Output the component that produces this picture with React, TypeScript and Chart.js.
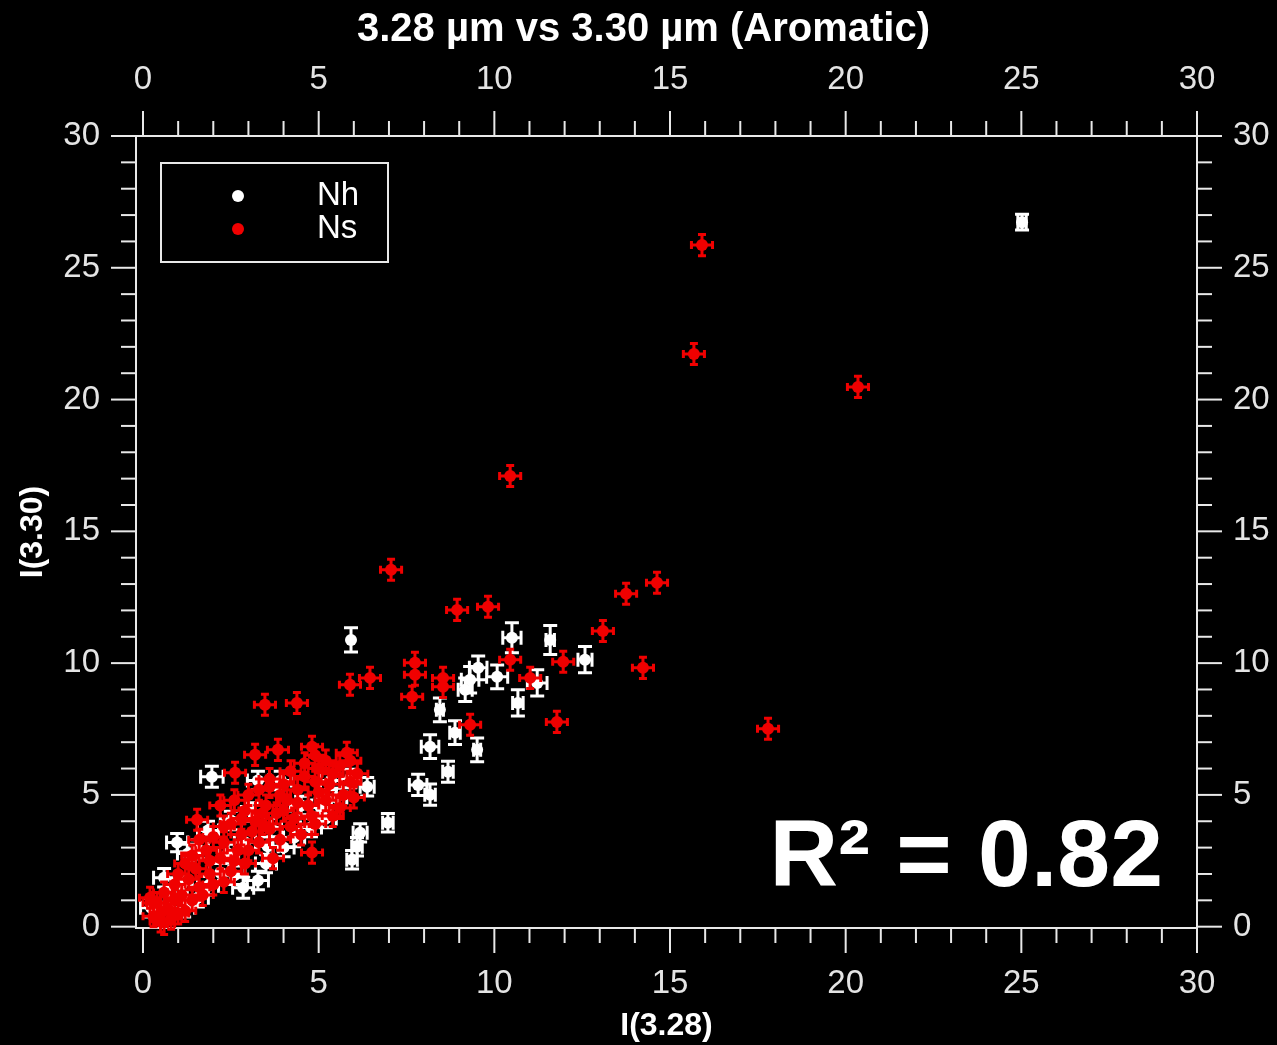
import React, { useEffect, useRef } from "react";
import { Chart, registerables } from "chart.js";

Chart.register(...registerables);

// ---------- data ----------
const TITLE = "3.28 µm vs 3.30 µm (Aromatic)";
const X_TITLE = "I(3.28)";
const Y_TITLE = "I(3.30)";
const R2_TEXT = "R² = 0.82";
const SERIES_LABELS = ["Nh", "Ns"];
const SERIES_COLORS = ["#ffffff", "#f00000"];
const X_MIN = -0.2;
const X_MAX = 30;
const Y_MIN = -0.05;
const Y_MAX = 30;
const MAJOR_STEP = 5;

// [x, y, xErr, yErr]
const NH_POINTS: [number, number, number, number][] = [
  [25.02, 26.73, 0.12, 0.3],
  [5.92, 10.88, 0, 0.46],
  [10.5, 10.96, 0.26, 0.57],
  [11.59, 10.88, 0.12, 0.55],
  [12.58, 10.13, 0.2, 0.5],
  [9.31, 9.37, 0.25, 0.5],
  [9.17, 8.99, 0.2, 0.45],
  [9.54, 9.82, 0.25, 0.45],
  [10.08, 9.48, 0.3, 0.45],
  [11.22, 9.25, 0.28, 0.5],
  [10.67, 8.49, 0.15, 0.5],
  [8.45, 8.23, 0.1, 0.45],
  [8.88, 7.36, 0.15, 0.45],
  [9.51, 6.71, 0.1, 0.45],
  [8.17, 6.83, 0.25, 0.45],
  [8.68, 5.88, 0.15, 0.4],
  [7.83, 5.38, 0.25, 0.4],
  [8.17, 5.01, 0.15, 0.4],
  [6.38, 5.31, 0.2, 0.35],
  [6.97, 3.94, 0.15, 0.35],
  [6.18, 3.56, 0.2, 0.35],
  [6.09, 3.03, 0.15, 0.35],
  [5.95, 2.54, 0.15, 0.35],
  [1.96, 5.69, 0.32, 0.4],
  [2.85, 1.48, 0.3, 0.4],
  [0.97, 3.19, 0.3, 0.35],
  [1.28, 2.78, 0.3, 0.35],
  [1.56, 2.95, 0.3, 0.35],
  [0.6, 1.86, 0.3, 0.35],
  [1.85, 3.65, 0.3, 0.35],
  [3.27, 1.75, 0.3, 0.35],
  [2.5, 4.03, 0.3, 0.35],
  [2.42, 2.78, 0.3, 0.35],
  [0.23, 0.72, 0.3, 0.35],
  [1.17, 0.72, 0.3, 0.35],
  [1.56, 1.1, 0.3, 0.35],
  [1.85, 1.55, 0.3, 0.35],
  [2.2, 2.05, 0.3, 0.35],
  [3.27, 5.55, 0.3, 0.35],
  [3.92, 5.55, 0.3, 0.35],
  [5.35, 5.55, 0.3, 0.35],
  [5.9, 5.62, 0.3, 0.35],
  [3.64, 3.76, 0.3, 0.35],
  [5.06, 4.52, 0.3, 0.35],
  [4.78, 3.76, 0.3, 0.35],
  [4.0, 3.0, 0.3, 0.35],
  [3.55, 3.05, 0.3, 0.35],
  [4.3, 3.38, 0.3, 0.35],
  [2.9, 3.2, 0.3, 0.35],
  [3.1, 4.35, 0.3, 0.35],
  [4.5, 4.6, 0.3, 0.35],
  [5.5, 4.9, 0.3, 0.35],
  [3.5, 2.4, 0.3, 0.35],
  [2.6, 1.95, 0.3, 0.35],
  [0.8, 1.25, 0.3, 0.35],
  [1.1, 1.6, 0.3, 0.35],
  [5.2, 4.1, 0.3, 0.35],
];

const NS_POINTS: [number, number, number, number][] = [
  [15.91, 25.86, 0.3, 0.4],
  [15.68, 21.73, 0.3, 0.4],
  [20.35, 20.48, 0.3, 0.4],
  [10.45, 17.1, 0.3, 0.4],
  [7.06, 13.54, 0.3, 0.4],
  [8.94, 12.02, 0.3, 0.4],
  [9.82, 12.14, 0.3, 0.4],
  [13.75, 12.63, 0.3, 0.4],
  [14.63, 13.05, 0.3, 0.4],
  [13.09, 11.22, 0.3, 0.4],
  [14.23, 9.82, 0.3, 0.4],
  [11.96, 10.05, 0.3, 0.4],
  [10.45, 10.13, 0.3, 0.4],
  [11.02, 9.44, 0.3, 0.4],
  [11.78, 7.77, 0.3, 0.4],
  [17.79, 7.51, 0.3, 0.4],
  [9.31, 7.66, 0.3, 0.4],
  [7.74, 10.01, 0.3, 0.4],
  [7.74, 9.56, 0.3, 0.4],
  [8.54, 9.44, 0.3, 0.4],
  [8.54, 9.1, 0.3, 0.4],
  [7.66, 8.72, 0.3, 0.4],
  [5.89, 9.18, 0.3, 0.4],
  [6.46, 9.44, 0.3, 0.4],
  [3.47, 8.42, 0.3, 0.4],
  [4.38, 8.49, 0.3, 0.4],
  [3.19, 6.52, 0.3, 0.4],
  [3.84, 6.71, 0.3, 0.4],
  [4.81, 6.83, 0.3, 0.4],
  [2.62, 5.84, 0.3, 0.4],
  [1.54, 4.06, 0.3, 0.4],
  [4.81, 2.81, 0.3, 0.4],
  [5.2, 6.3, 0.3, 0.4],
  [5.6, 6.1, 0.3, 0.4],
  [5.9, 6.3, 0.3, 0.4],
  [5.4, 5.8, 0.3, 0.4],
  [5.9, 5.5, 0.3, 0.4],
  [6.1, 5.8, 0.3, 0.4],
  [5.7, 5.0, 0.3, 0.4],
  [5.2, 4.8, 0.3, 0.4],
  [6.0, 4.9, 0.3, 0.4],
  [5.6, 4.5, 0.3, 0.4],
  [4.2, 5.9, 0.3, 0.4],
  [4.6, 6.2, 0.3, 0.4],
  [4.9, 5.5, 0.3, 0.4],
  [4.4, 5.2, 0.3, 0.4],
  [4.1, 4.8, 0.3, 0.4],
  [4.7, 4.6, 0.3, 0.4],
  [4.3, 4.1, 0.3, 0.4],
  [4.8, 4.2, 0.3, 0.4],
  [4.5, 3.5, 0.3, 0.4],
  [3.3, 5.2, 0.3, 0.4],
  [3.6, 5.6, 0.3, 0.4],
  [3.9, 5.0, 0.3, 0.4],
  [3.5, 4.6, 0.3, 0.4],
  [3.8, 4.3, 0.3, 0.4],
  [3.2, 4.0, 0.3, 0.4],
  [3.6, 3.7, 0.3, 0.4],
  [3.9, 3.3, 0.3, 0.4],
  [3.3, 3.2, 0.3, 0.4],
  [3.7, 2.6, 0.3, 0.4],
  [2.2, 4.6, 0.3, 0.4],
  [2.6, 4.8, 0.3, 0.4],
  [2.9, 4.4, 0.3, 0.4],
  [2.5, 3.9, 0.3, 0.4],
  [2.8, 3.5, 0.3, 0.4],
  [2.3, 3.2, 0.3, 0.4],
  [2.7, 2.9, 0.3, 0.4],
  [2.2, 2.6, 0.3, 0.4],
  [2.9, 2.4, 0.3, 0.4],
  [2.5, 2.1, 0.3, 0.4],
  [1.2, 2.4, 0.3, 0.4],
  [1.5, 2.2, 0.3, 0.4],
  [1.8, 2.9, 0.3, 0.4],
  [1.6, 3.3, 0.3, 0.4],
  [1.3, 1.8, 0.3, 0.4],
  [1.9, 2.0, 0.3, 0.4],
  [1.6, 1.5, 0.3, 0.4],
  [1.1, 1.2, 0.3, 0.4],
  [1.9, 2.5, 0.3, 0.4],
  [1.4, 2.7, 0.3, 0.4],
  [0.3, 0.4, 0.3, 0.4],
  [0.5, 0.2, 0.3, 0.4],
  [0.8, 0.3, 0.3, 0.4],
  [0.4, 0.9, 0.3, 0.4],
  [0.7, 0.7, 0.3, 0.4],
  [0.9, 1.0, 0.3, 0.4],
  [0.6, 1.3, 0.3, 0.4],
  [0.2, 1.1, 0.3, 0.4],
  [0.9, 1.6, 0.3, 0.4],
  [0.5, 0.5, 0.3, 0.4],
  [1.0, 0.5, 0.3, 0.4],
  [0.3, 0.9, 0.3, 0.4],
  [0.6, 0.1, 0.3, 0.4],
  [1.2, 0.6, 0.3, 0.4],
  [1.4, 1.0, 0.3, 0.4],
  [1.7, 1.2, 0.3, 0.4],
  [2.0, 1.6, 0.3, 0.4],
  [2.3, 1.7, 0.3, 0.4],
  [2.6, 2.5, 0.3, 0.4],
  [3.0, 2.9, 0.3, 0.4],
  [3.1, 3.6, 0.3, 0.4],
  [3.4, 3.9, 0.3, 0.4],
  [2.0, 3.4, 0.3, 0.4],
  [2.3, 3.8, 0.3, 0.4],
  [2.8, 4.1, 0.3, 0.4],
  [4.0, 4.4, 0.3, 0.4],
  [4.4, 4.7, 0.3, 0.4],
  [5.0, 5.1, 0.3, 0.4],
  [5.3, 5.4, 0.3, 0.4],
  [4.6, 5.7, 0.3, 0.4],
  [5.0, 6.0, 0.3, 0.4],
  [5.8, 6.6, 0.3, 0.4],
  [4.9, 6.5, 0.3, 0.4],
  [3.0, 5.0, 0.3, 0.4],
  [4.2, 3.8, 0.3, 0.4],
  [4.0, 5.4, 0.3, 0.4],
  [3.4, 4.3, 0.3, 0.4],
  [5.4, 4.2, 0.3, 0.4],
  [4.9, 3.9, 0.3, 0.4],
  [1.0, 2.0, 0.3, 0.4],
  [3.6, 5.3, 0.3, 0.4],
];

// ---------- styling ----------
const FONT = "'Liberation Sans', Arial, Helvetica, sans-serif";
const AXIS_COLOR = "#e8e8e8";
const TICK_LABEL_COLOR = "#e4e4e4";
const TITLE_SIZE = 40;
const TITLE_PAD_TOP = 6;
const TITLE_BOX = TITLE_SIZE * 1.2 + TITLE_PAD_TOP;

const toPoints = (arr: [number, number, number, number][]) =>
  arr.map(([x, y, xe, ye]) => ({ x, y, xe, ye }));

const frameTicksPlugin = {
  id: "frameTicks",
  beforeDatasetsDraw(chart: any) {
    const { ctx, chartArea: a, scales } = chart;
    ctx.save();
    ctx.strokeStyle = AXIS_COLOR;
    ctx.lineWidth = 2;
    ctx.strokeRect(a.left, a.top, a.right - a.left, a.bottom - a.top);
    const draw = (scale: any, side: string) => {
      for (let v = Math.ceil(scale.min); v <= scale.max; v++) {
        const len = v % MAJOR_STEP === 0 ? 25 : 15;
        const p = scale.getPixelForValue(v);
        ctx.beginPath();
        if (side === "bottom") {
          ctx.moveTo(p, a.bottom);
          ctx.lineTo(p, a.bottom + len);
        } else if (side === "top") {
          ctx.moveTo(p, a.top);
          ctx.lineTo(p, a.top - len);
        } else if (side === "left") {
          ctx.moveTo(a.left, p);
          ctx.lineTo(a.left - len, p);
        } else {
          ctx.moveTo(a.right, p);
          ctx.lineTo(a.right + len, p);
        }
        ctx.stroke();
      }
    };
    draw(scales.x, "bottom");
    draw(scales.x2, "top");
    draw(scales.y, "left");
    draw(scales.y2, "right");
    ctx.restore();
  },
};

const errorBarsPlugin = {
  id: "errorBars",
  beforeDatasetDraw(chart: any, args: any) {
    const ds = chart.data.datasets[args.index];
    const xs = chart.scales.x;
    const ys = chart.scales.y;
    const ctx = chart.ctx;
    const cap = ds.errorCap || 4;
    ctx.save();
    ctx.strokeStyle = ds.backgroundColor;
    ctx.lineWidth = 3;
    ctx.beginPath();
    for (const p of ds.data) {
      const cx = xs.getPixelForValue(p.x);
      const cy = ys.getPixelForValue(p.y);
      if (p.xe > 0) {
        const x1 = xs.getPixelForValue(p.x - p.xe);
        const x2 = xs.getPixelForValue(p.x + p.xe);
        ctx.moveTo(x1, cy);
        ctx.lineTo(x2, cy);
        ctx.moveTo(x1, cy - cap);
        ctx.lineTo(x1, cy + cap);
        ctx.moveTo(x2, cy - cap);
        ctx.lineTo(x2, cy + cap);
      }
      if (p.ye > 0) {
        const y1 = ys.getPixelForValue(p.y - p.ye);
        const y2 = ys.getPixelForValue(p.y + p.ye);
        ctx.moveTo(cx, y1);
        ctx.lineTo(cx, y2);
        ctx.moveTo(cx - cap, y1);
        ctx.lineTo(cx + cap, y1);
        ctx.moveTo(cx - cap, y2);
        ctx.lineTo(cx + cap, y2);
      }
    }
    ctx.stroke();
    ctx.restore();
  },
};

const overlayPlugin = {
  id: "overlay",
  afterDraw(chart: any) {
    const { ctx, chartArea: a } = chart;
    ctx.save();
    // legend box
    ctx.strokeStyle = AXIS_COLOR;
    ctx.lineWidth = 2;
    ctx.strokeRect(a.left + 25, a.top + 27, 227, 99);
    chart.data.datasets.forEach((ds: any, i: number) => {
      const y = a.top + 60 + i * 33;
      ctx.fillStyle = ds.backgroundColor;
      ctx.beginPath();
      ctx.arc(a.left + 102, y, 6, 0, Math.PI * 2);
      ctx.fill();
      ctx.fillStyle = "#ffffff";
      ctx.font = `33px ${FONT}`;
      ctx.textAlign = "left";
      ctx.textBaseline = "middle";
      ctx.fillText(ds.label, a.left + 181, y);
    });
    // R^2 annotation
    ctx.fillStyle = "#ffffff";
    ctx.font = `bold 95px ${FONT}`;
    ctx.textAlign = "right";
    ctx.textBaseline = "alphabetic";
    ctx.fillText(R2_TEXT, a.right - 34, a.bottom - 42);
    ctx.restore();
  },
};

const tickFont = { family: FONT, size: 33 };
const axisTitleFont = { family: FONT, size: 32, weight: "bold" as const };

function makeScale(position: string, isX: boolean, extra: any) {
  return {
    type: "linear",
    position,
    min: isX ? X_MIN : Y_MIN,
    max: isX ? X_MAX : Y_MAX,
    grid: { display: false, drawTicks: false },
    border: { display: false },
    ticks: {
      stepSize: MAJOR_STEP,
      includeBounds: false,
      autoSkip: false,
      maxRotation: 0,
      color: TICK_LABEL_COLOR,
      font: tickFont,
      padding: 36,
    },
    ...extra,
  };
}

export default function App() {
  const ref = useRef<HTMLCanvasElement>(null);

  useEffect(() => {
    document.body.style.margin = "0";
    document.body.style.background = "#000";
    document.documentElement.style.overflow = "hidden";
    const chart = new Chart(ref.current as HTMLCanvasElement, {
      type: "scatter",
      data: {
        datasets: [
          {
            label: SERIES_LABELS[0],
            data: toPoints(NH_POINTS),
            backgroundColor: SERIES_COLORS[0],
            borderWidth: 0,
            pointRadius: 6,
            errorCap: 7,
            order: 2,
          } as any,
          {
            label: SERIES_LABELS[1],
            data: toPoints(NS_POINTS),
            backgroundColor: SERIES_COLORS[1],
            borderWidth: 0,
            pointRadius: 6,
            errorCap: 4,
            order: 1,
          } as any,
        ],
      },
      options: {
        responsive: false,
        animation: false,
        devicePixelRatio: 1,
        layout: { padding: { left: 10, right: 0, top: 0, bottom: 0 } },
        plugins: {
          legend: { display: false },
          tooltip: { enabled: false },
          title: {
            display: true,
            text: TITLE,
            color: "#ffffff",
            font: { family: FONT, size: TITLE_SIZE, weight: "bold" },
            padding: { top: TITLE_PAD_TOP, bottom: 0 },
          },
        },
        scales: {
          x: makeScale("bottom", true, {
            title: {
              display: true,
              text: X_TITLE,
              color: "#ffffff",
              font: axisTitleFont,
              padding: { top: 0, bottom: 0 },
            },
            afterFit: (s: any) => {
              s.height = 117;
            },
          }),
          x2: makeScale("top", true, {
            afterFit: (s: any) => {
              s.height = 136 - TITLE_BOX;
            },
          }),
          y: makeScale("left", false, {
            title: {
              display: true,
              text: Y_TITLE,
              color: "#ffffff",
              font: axisTitleFont,
              padding: { top: 4, bottom: 0 },
            },
            afterFit: (s: any) => {
              s.width = 126;
            },
          }),
          y2: makeScale("right", false, {
            afterFit: (s: any) => {
              s.width = 80;
            },
          }),
        } as any,
      },
      plugins: [frameTicksPlugin, errorBarsPlugin, overlayPlugin],
    } as any);
    return () => chart.destroy();
  }, []);

  return (
    <div style={{ width: 1277, height: 1045, background: "#000" }}>
      <canvas
        ref={ref}
        width={1277}
        height={1045}
        style={{ display: "block", width: 1277, height: 1045 }}
      />
    </div>
  );
}
